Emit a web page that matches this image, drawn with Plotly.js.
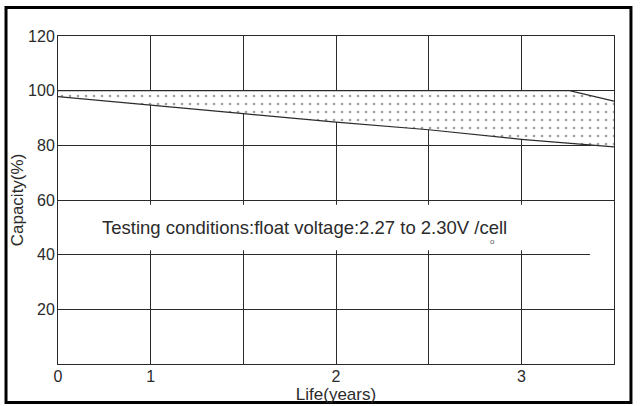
<!DOCTYPE html>
<html>
<head>
<meta charset="utf-8">
<script src="https://cdn.plot.ly/plotly-3.0.1.min.js"></script>
<style>
  html, body { margin: 0; padding: 0; background: #fff; }
  #chart { width: 641px; height: 406px; }
</style>
</head>
<body>
<div id="chart"></div>
<script>
// Grid positions along the x axis (each unit = one grid cell)
const gridPos = [0, 1, 2, 3, 4, 5, 6];
const xTickLabels = ["0", "1", "", "2", "", "3", ""];
const yTickVals = [0, 20, 40, 60, 80, 100, 120];
const yTickLabels = ["", "20", "40", "60", "80", "100", "120"];

// Lower capacity boundary (%)
const lowerX = [0, 1, 2, 3, 4, 5, 6];
const lowerY = [97.8, 94.8, 91.6, 88.5, 85.7, 82.2, 79.4];
// Upper capacity boundary (%)
const upperX = [0, 5.52, 6];
const upperY = [100, 100, 96.2];

const noteText = "Testing conditions:float voltage:2.27 to 2.30V /cell";

const ink = "#2b2b2b";
const fontFam = "Liberation Sans, Arial, sans-serif";

const traces = [
  {
    x: lowerX, y: lowerY, type: "scatter", mode: "lines",
    line: { color: ink, width: 1.2 }, hoverinfo: "skip", showlegend: false
  },
  {
    x: upperX, y: upperY, type: "scatter", mode: "lines",
    line: { color: ink, width: 1.2 }, fill: "tonexty",
    fillcolor: "white",
    fillpattern: { shape: ".", fgcolor: "#a0a0a0", bgcolor: "#ffffff", size: 8, solidity: 0.09 },
    hoverinfo: "skip", showlegend: false
  }
];

const layout = {
  width: 641, height: 406,
  margin: { l: 58.3, r: 26.5, t: 36, b: 41.5 },
  paper_bgcolor: "#ffffff",
  plot_bgcolor: "#ffffff",
  font: { family: fontFam, color: ink, size: 16 },
  showlegend: false,
  xaxis: {
    range: [0, 6], tickvals: gridPos, ticktext: xTickLabels,
    showgrid: true, gridcolor: ink, gridwidth: 1,
    showline: true, linecolor: ink, linewidth: 1, mirror: true,
    ticks: "", zeroline: false, ticklabelstandoff: -2,
    tickfont: { size: 16, color: ink },
    title: { text: "Life(years)", font: { size: 17, color: ink }, standoff: 0 },
    automargin: false, fixedrange: true
  },
  yaxis: {
    range: [0, 120], tickvals: yTickVals, ticktext: yTickLabels,
    showgrid: true, gridcolor: ink, gridwidth: 1,
    showline: true, linecolor: ink, linewidth: 1, mirror: true,
    ticks: "", zeroline: false, ticklabelstandoff: -1,
    tickfont: { size: 16, color: ink },
    title: { text: "Capacity(%)", font: { size: 17, color: ink }, standoff: 0 },
    automargin: false, fixedrange: true
  },
  shapes: [
    // white band hiding grid behind the note text
    { type: "rect", xref: "x", yref: "y", x0: 0, x1: 6, y0: 41.6, y1: 58.3,
      fillcolor: "#ffffff", line: { width: 0 }, layer: "between" },
    // 40% grid line stops short of the right edge
    { type: "line", xref: "x", yref: "y", x0: 5.74, x1: 6, y0: 40, y1: 40,
      line: { color: "#ffffff", width: 3 }, layer: "between" },
    // outer frame
    { type: "rect", xref: "paper", yref: "paper", x0: -0.0935, x1: 1.0305, y0: -0.1172, y1: 1.0868,
      line: { color: "#000000", width: 3 }, fillcolor: "rgba(0,0,0,0)", layer: "above" }
  ],
  annotations: [
    { text: noteText, xref: "paper", yref: "y", x: 0.443, y: 50, showarrow: false,
      font: { size: 18.5, color: ink, family: fontFam }, xanchor: "center", yanchor: "middle" },
    { text: "o", xref: "x", yref: "y", x: 4.69, y: 44.7, showarrow: false,
      font: { size: 8, color: "#555" } }
  ]
};

Plotly.newPlot("chart", traces, layout, { staticPlot: true, displayModeBar: false });
</script>
</body>
</html>
